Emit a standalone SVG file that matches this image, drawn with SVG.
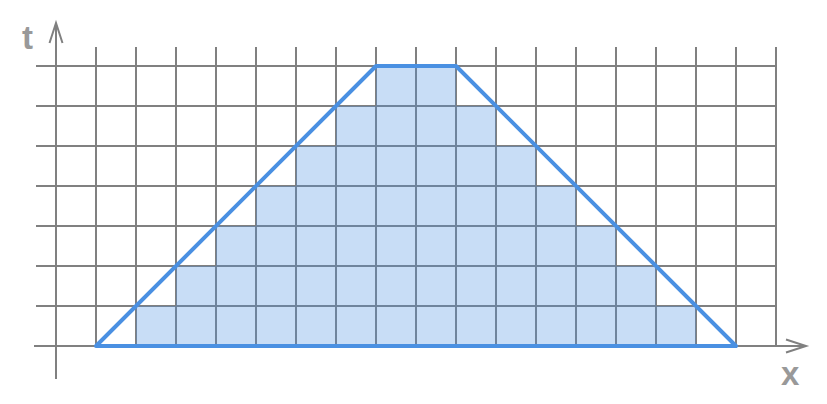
<svg xmlns="http://www.w3.org/2000/svg" width="827" height="404" viewBox="0 0 827 404">
<style>
.grid{stroke:#808080;stroke-width:2;fill:none}
.cell{fill:#4a90e2;fill-opacity:0.3}
.shape{stroke:#4a90e2;stroke-width:4;fill:none;stroke-linejoin:round}
.lbl{font-family:"Liberation Sans",Arial,sans-serif;font-size:33px;font-weight:bold;fill:#999}
</style>
<rect width="827" height="404" fill="#fff"/>
<g id="grid" class="grid">
<path d="M96 47V346M136 47V346M176 47V346M216 47V346M256 47V346M296 47V346M336 47V346M376 47V346M416 47V346M456 47V346M496 47V346M536 47V346M576 47V346M616 47V346M656 47V346M696 47V346M736 47V346M776 47V346"/>
<path d="M36 66H776M36 106H776M36 146H776M36 186H776M36 226H776M36 266H776M36 306H776"/>
</g>
<g id="axes" class="grid">
<path d="M56 379V23"/>
<path d="M49.5 43L56 23L62.5 43"/>
<path d="M34 346H806"/>
<path d="M786 339.5L806 346L786 352.5"/>
</g>
<g id="cells">
<rect class="cell" x="136" y="306" width="40" height="40"/>
<rect class="cell" x="176" y="266" width="40" height="80"/>
<rect class="cell" x="216" y="226" width="40" height="120"/>
<rect class="cell" x="256" y="186" width="40" height="160"/>
<rect class="cell" x="296" y="146" width="40" height="200"/>
<rect class="cell" x="336" y="106" width="40" height="240"/>
<rect class="cell" x="376" y="66" width="80" height="280"/>
<rect class="cell" x="456" y="106" width="40" height="240"/>
<rect class="cell" x="496" y="146" width="40" height="200"/>
<rect class="cell" x="536" y="186" width="40" height="160"/>
<rect class="cell" x="576" y="226" width="40" height="120"/>
<rect class="cell" x="616" y="266" width="40" height="80"/>
<rect class="cell" x="656" y="306" width="40" height="40"/>
</g>
<g id="trapezoid">
<path class="shape" d="M96 346L376 66H456L736 346Z"/>
</g>
<g id="labels">
<text class="lbl" x="22" y="49">t</text>
<text class="lbl" x="781" y="385">x</text>
</g>
</svg>
